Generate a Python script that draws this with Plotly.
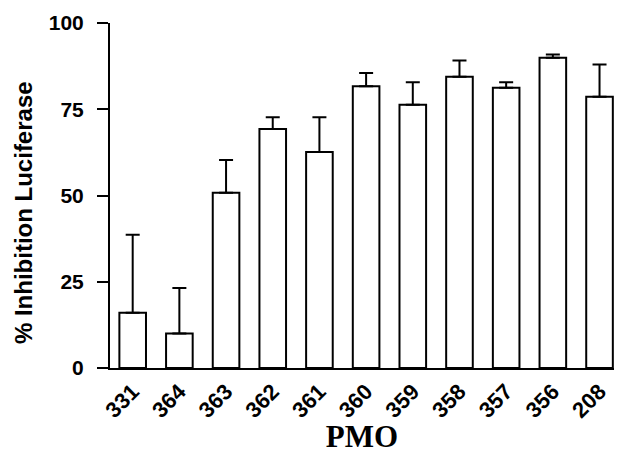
import plotly.graph_objects as go

categories = ["331", "364", "363", "362", "361", "360", "359", "358", "357", "356", "208"]
values = [16.0, 10.0, 50.8, 69.3, 62.6, 81.7, 76.3, 84.4, 81.2, 89.9, 78.6]
errors_up = [22.6, 13.2, 9.5, 3.4, 10.1, 3.8, 6.5, 4.7, 1.6, 1.0, 9.4]
y_ticks = [0, 25, 50, 75, 100]

fig = go.Figure()
fig.add_trace(go.Bar(
    x=categories, y=values,
    marker=dict(color="white", line=dict(color="black", width=2)),
    width=0.57,
    error_y=dict(type="data", symmetric=False, array=errors_up,
                 arrayminus=[0] * len(values), color="black",
                 thickness=2, width=7),
))

fig.update_layout(
    width=626, height=454,
    margin=dict(l=110, r=12, t=23, b=86, autoexpand=False),
    plot_bgcolor="white", paper_bgcolor="white",
    showlegend=False,
    font=dict(family="Liberation Sans, Arial, sans-serif", color="black"),
    annotations=[dict(
        text="<b>% Inhibition Luciferase</b>", textangle=-90,
        xref="paper", yref="paper", x=-87 / 504, y=0.449,
        xanchor="center", yanchor="middle", showarrow=False,
        font=dict(size=24, family="Liberation Sans, Arial", color="black"),
    )],
)
fig.update_xaxes(
    type="category", range=[-0.486, 10.31],
    showline=True, linecolor="black", linewidth=2,
    ticks="", tickangle=-45,
    tickfont=dict(size=22, family="Liberation Sans, Arial", weight="bold"),
    title=dict(text="<b>PMO</b>", font=dict(size=31, family="Liberation Serif, Times New Roman, serif"),
               standoff=10),
    automargin=False, showgrid=False, zeroline=False,
)
fig.update_yaxes(
    range=[0, 100], tickmode="array", tickvals=y_ticks, ticktext=[str(v) for v in y_ticks],
    showline=True, linecolor="black", linewidth=2,
    ticks="outside", ticklen=11, tickwidth=2, tickcolor="black",
    ticklabelstandoff=9,
    tickfont=dict(size=21, family="Liberation Sans, Arial", weight="bold"),
    automargin=False, showgrid=False, zeroline=False,
)

fig.write_html("out.html")
